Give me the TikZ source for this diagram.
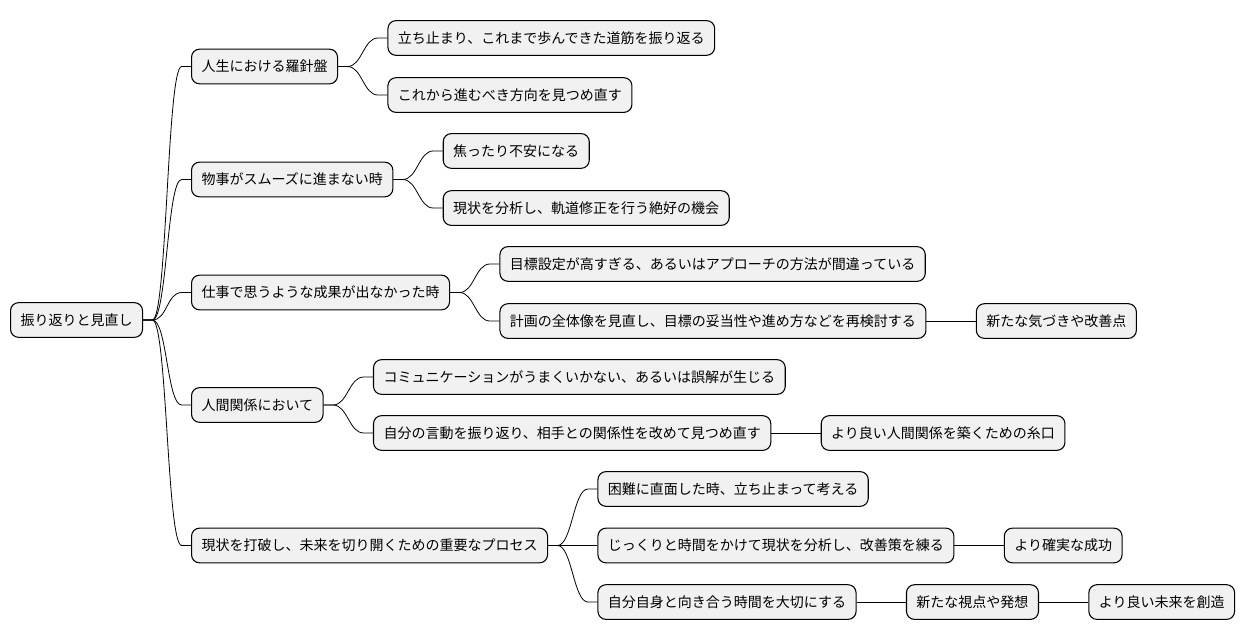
\documentclass[tikz,border=0pt]{standalone}
\usepackage{fontspec}
\setmainfont{Noto Sans CJK JP}
\usepackage{xcolor}
\usepackage{tikz}
\usetikzlibrary{positioning}
\definecolor{boxgray}{RGB}{241, 241, 241}

\begin{document}
\begin{tikzpicture}[
    x=0.75pt, y=-0.75pt,
    node distance=37pt,
    box/.style={rectangle, rounded corners=6pt, draw=black, fill=boxgray,
                line width=0.8pt, minimum height=26pt, inner xsep=7.5pt,
                font=\fontsize{10.5}{12}\selectfont, anchor=west},
    link/.style={line width=0.6pt, to path={-- ++(7pt,0) .. controls +(11pt,0) and +(-11pt,0) .. ([xshift=-7pt]\tikztotarget) -- (\tikztotarget)}}
]
    \useasboundingbox (0,0) rectangle (1244,640);

    % Root and main branches
    \node[box] (root) at (10,320) {振り返りと見直し};
    \node[box] (compass) at (191,66.5) {人生における羅針盤};
    \node[box] (stuck) at (191,179.5) {物事がスムーズに進まない時};
    \node[box] (work) at (191,292.5) {仕事で思うような成果が出なかった時};
    \node[box] (people) at (191,405) {人間関係において};
    \node[box] (process) at (191,545.5) {現状を打破し、未来を切り開くための重要なプロセス};

    % Second level
    \node[box, right=of compass, yshift=21.4pt] (look) {立ち止まり、これまで歩んできた道筋を振り返る};
    \node[box, right=of compass, yshift=-21.4pt] (ahead) {これから進むべき方向を見つめ直す};
    \node[box, right=of stuck, yshift=21.4pt] (anxious) {焦ったり不安になる};
    \node[box, right=of stuck, yshift=-21.4pt] (chance) {現状を分析し、軌道修正を行う絶好の機会};
    \node[box, right=of work, yshift=21.4pt] (goal) {目標設定が高すぎる、あるいはアプローチの方法が間違っている};
    \node[box, right=of work, yshift=-21.4pt] (plan) {計画の全体像を見直し、目標の妥当性や進め方などを再検討する};
    \node[box, right=of people, yshift=21pt] (talk) {コミュニケーションがうまくいかない、あるいは誤解が生じる};
    \node[box, right=of people, yshift=-21pt] (self) {自分の言動を振り返り、相手との関係性を改めて見つめ直す};
    \node[box, right=of process, yshift=42.4pt] (pause) {困難に直面した時、立ち止まって考える};
    \node[box, right=of process] (analyse) {じっくりと時間をかけて現状を分析し、改善策を練る};
    \node[box, right=of process, yshift=-42.4pt] (time) {自分自身と向き合う時間を大切にする};

    % Third level and beyond
    \node[box, right=of plan] (notice) {新たな気づきや改善点};
    \node[box, right=of self] (clue) {より良い人間関係を築くための糸口};
    \node[box, right=of analyse] (success) {より確実な成功};
    \node[box, right=of time] (idea) {新たな視点や発想};
    \node[box, right=of idea] (future) {より良い未来を創造};

    % Connectors
    \draw[link] (root.east) to (compass.west);
    \draw[link] (root.east) to (stuck.west);
    \draw[link] (root.east) to (work.west);
    \draw[link] (root.east) to (people.west);
    \draw[link] (root.east) to (process.west);
    \draw[link] (compass.east) to (look.west);
    \draw[link] (compass.east) to (ahead.west);
    \draw[link] (stuck.east) to (anxious.west);
    \draw[link] (stuck.east) to (chance.west);
    \draw[link] (work.east) to (goal.west);
    \draw[link] (work.east) to (plan.west);
    \draw[link] (plan.east) to (notice.west);
    \draw[link] (people.east) to (talk.west);
    \draw[link] (people.east) to (self.west);
    \draw[link] (self.east) to (clue.west);
    \draw[link] (process.east) to (pause.west);
    \draw[link] (process.east) to (analyse.west);
    \draw[link] (process.east) to (time.west);
    \draw[link] (analyse.east) to (success.west);
    \draw[link] (time.east) to (idea.west);
    \draw[link] (idea.east) to (future.west);
\end{tikzpicture}
\end{document}
